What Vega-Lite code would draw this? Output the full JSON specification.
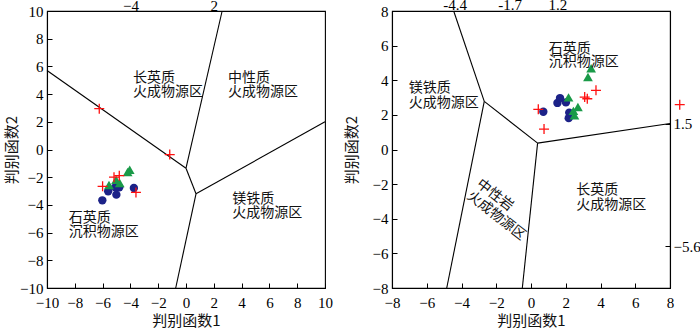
{
  "$schema": "https://vega.github.io/schema/vega-lite/v6.json",
  "padding": {"left": 3, "top": -3, "right": 0, "bottom": 0},
  "spacing": 9,
  "datasets": {
    "leftLines": [
      {"seg": "A", "o": 1, "x": -10, "y": 5.7}, {"seg": "A", "o": 2, "x": 0, "y": -1.35},
      {"seg": "B", "o": 1, "x": 0, "y": -1.35}, {"seg": "B", "o": 2, "x": 2.6, "y": 10},
      {"seg": "C", "o": 1, "x": 0, "y": -1.35}, {"seg": "C", "o": 2, "x": 0.72, "y": -3.2},
      {"seg": "D", "o": 1, "x": 0.72, "y": -3.2}, {"seg": "D", "o": 2, "x": 10, "y": 2.0},
      {"seg": "E", "o": 1, "x": 0.72, "y": -3.2}, {"seg": "E", "o": 2, "x": -0.74, "y": -10}
    ],
    "leftPts": [
      {"g": "circle", "x": -6.02, "y": -3.67}, {"g": "circle", "x": -5.6, "y": -3.02},
      {"g": "circle", "x": -5.01, "y": -3.26}, {"g": "circle", "x": -5.08, "y": -2.72},
      {"g": "circle", "x": -4.8, "y": -2.73}, {"g": "circle", "x": -3.75, "y": -2.78},
      {"g": "tri", "x": -4.2, "y": -1.62}, {"g": "tri", "x": -4.05, "y": -1.46},
      {"g": "tri", "x": -5.03, "y": -2.18}, {"g": "tri", "x": -4.77, "y": -2.42},
      {"g": "tri", "x": -5.54, "y": -2.56},
      {"g": "plus", "x": -6.24, "y": 2.95}, {"g": "plus", "x": -1.17, "y": -0.37},
      {"g": "plus", "x": -6.0, "y": -2.66}, {"g": "plus", "x": -5.18, "y": -2.0},
      {"g": "plus", "x": -4.8, "y": -1.89}, {"g": "plus", "x": -3.6, "y": -3.1}
    ],
    "leftText": [
      {"x": -3.81, "y": 5.16, "t": "长英质"}, {"x": -3.81, "y": 4.15, "t": "火成物源区"},
      {"x": 3.02, "y": 5.16, "t": "中性质"}, {"x": 3.02, "y": 4.15, "t": "火成物源区"},
      {"x": 3.33, "y": -3.57, "t": "镁铁质"}, {"x": 3.33, "y": -4.6, "t": "火成物源区"},
      {"x": -8.44, "y": -4.95, "t": "石英质"}, {"x": -8.44, "y": -5.98, "t": "沉积物源区"}
    ],
    "rightLines": [
      {"seg": "A", "o": 1, "x": -4.45, "y": 8}, {"seg": "A", "o": 2, "x": -2.69, "y": 2.78},
      {"seg": "B", "o": 1, "x": -2.69, "y": 2.78}, {"seg": "B", "o": 2, "x": 0.38, "y": 0.37},
      {"seg": "C", "o": 1, "x": 0.38, "y": 0.37}, {"seg": "C", "o": 2, "x": 8, "y": 1.5},
      {"seg": "D", "o": 1, "x": 0.38, "y": 0.37}, {"seg": "D", "o": 2, "x": -0.5, "y": -8},
      {"seg": "E", "o": 1, "x": -2.69, "y": 2.78}, {"seg": "E", "o": 2, "x": -4.85, "y": -8}
    ],
    "rightPts": [
      {"g": "circle", "x": 0.71, "y": 2.18}, {"g": "circle", "x": 1.52, "y": 2.69},
      {"g": "circle", "x": 1.67, "y": 2.97}, {"g": "circle", "x": 2.01, "y": 2.72},
      {"g": "circle", "x": 2.2, "y": 2.13}, {"g": "circle", "x": 2.17, "y": 1.81},
      {"g": "tri", "x": 3.46, "y": 4.69}, {"g": "tri", "x": 3.28, "y": 4.19},
      {"g": "tri", "x": 2.16, "y": 3.01}, {"g": "tri", "x": 2.7, "y": 2.45},
      {"g": "tri", "x": 2.44, "y": 2.23}, {"g": "tri", "x": 2.5, "y": 1.97},
      {"g": "plus", "x": 0.42, "y": 2.32}, {"g": "plus", "x": 0.75, "y": 1.18},
      {"g": "plus", "x": 3.09, "y": 3.03}, {"g": "plus", "x": 3.24, "y": 2.93},
      {"g": "plus", "x": 3.74, "y": 3.42}, {"g": "plus", "x": 8.56, "y": 2.59}
    ],
    "rightText": [
      {"x": 1.02, "y": 5.82, "t": "石英质"}, {"x": 1.02, "y": 5.05, "t": "沉积物源区"},
      {"x": -7.04, "y": 3.55, "t": "镁铁质"}, {"x": -7.04, "y": 2.69, "t": "火成物源区"},
      {"x": 2.61, "y": -2.36, "t": "长英质"}, {"x": 2.61, "y": -3.19, "t": "火成物源区"}
    ],
    "rightRot": [
      {"x": -2.08, "y": -2.65, "t": "中性岩", "a": 38}, {"x": -2.0, "y": -3.83, "t": "火成物源区", "a": 38}
    ],
    "rightTop": [
      {"x": -4.37, "y": 8, "t": "-4.4"}, {"x": -1.2, "y": 8, "t": "-1.7"}, {"x": 1.55, "y": 8, "t": "1.2"}
    ]
  },
  "hconcat": [
    {
      "width": 278, "height": 277,
      "layer": [
        {
          "data": {"name": "leftLines"},
          "mark": {"type": "line", "color": "black", "strokeWidth": 1.1},
          "encoding": {
            "x": {"field": "x", "type": "quantitative", "scale": {"domain": [-10, 10], "nice": false, "zero": false},
                  "axis": {"values": [-10, -8, -6, -4, -2, 0, 2, 4, 6, 8, 10], "title": "判别函数1", "labelPadding": 12, "titlePadding": 3, "labelOverlap": false}},
            "y": {"field": "y", "type": "quantitative", "scale": {"domain": [-10, 10], "nice": false, "zero": false},
                  "axis": {"values": [-10, -8, -6, -4, -2, 0, 2, 4, 6, 8, 10], "title": "判别函数2", "titlePadding": 0, "labelOverlap": false}},
            "detail": {"field": "seg"},
            "order": {"field": "o"}
          }
        },
        {
          "data": {"name": "leftPts"},
          "transform": [{"filter": "datum.g != 'plus'"}],
          "mark": {"type": "point", "filled": true, "opacity": 1},
          "encoding": {
            "x": {"field": "x", "type": "quantitative",
                  "axis": {"orient": "top", "values": [-4, 2], "ticks": false, "domain": false, "title": null, "labelPadding": 1, "labelBaseline": "alphabetic", "labelOverlap": false}},
            "y": {"field": "y", "type": "quantitative",
                  "axis": {"values": [-10, -8, -6, -4, -2, 0, 2, 4, 6, 8, 10], "title": "判别函数2", "titlePadding": 0, "labelOverlap": false}},
            "shape": {"field": "g", "scale": {"domain": ["circle", "tri"], "range": ["circle", "triangle-up"]}, "legend": null},
            "color": {"field": "g", "scale": {"domain": ["circle", "tri"], "range": ["#1c2288", "#1a9a48"]}, "legend": null},
            "size": {"field": "g", "scale": {"domain": ["circle", "tri"], "range": [70, 95]}, "legend": null}
          }
        },
        {
          "data": {"name": "leftPts"},
          "transform": [{"filter": "datum.g == 'plus'"}],
          "mark": {"type": "point", "shape": "M-1,0L1,0M0,-1L0,1", "filled": false, "color": "#ff1010", "strokeWidth": 1.3, "size": 100, "opacity": 1},
          "encoding": {
            "x": {"field": "x", "type": "quantitative", "axis": null},
            "y": {"field": "y", "type": "quantitative",
                  "axis": {"values": [-10, -8, -6, -4, -2, 0, 2, 4, 6, 8, 10], "title": "判别函数2", "titlePadding": 0, "labelOverlap": false}}
          }
        },
        {
          "data": {"name": "leftText"},
          "mark": {"type": "text", "align": "left", "baseline": "middle", "font": "Noto Sans CJK SC", "fontSize": 14, "color": "#111"},
          "encoding": {
            "x": {"field": "x", "type": "quantitative", "axis": null},
            "y": {"field": "y", "type": "quantitative",
                  "axis": {"values": [-10, -8, -6, -4, -2, 0, 2, 4, 6, 8, 10], "title": "判别函数2", "titlePadding": 0, "labelOverlap": false}},
            "text": {"field": "t"}
          }
        }
      ],
      "resolve": {"axis": {"x": "independent"}}
    },
    {
      "width": 278, "height": 277,
      "layer": [
        {
          "data": {"name": "rightLines"},
          "mark": {"type": "line", "color": "black", "strokeWidth": 1.1},
          "encoding": {
            "x": {"field": "x", "type": "quantitative", "scale": {"domain": [-8, 8], "nice": false, "zero": false},
                  "axis": {"values": [-8, -6, -4, -2, 0, 2, 4, 6, 8], "title": "判别函数1", "labelPadding": 12, "titlePadding": 3, "labelOverlap": false}},
            "y": {"field": "y", "type": "quantitative", "scale": {"domain": [-8, 8], "nice": false, "zero": false},
                  "axis": {"values": [-8, -6, -4, -2, 0, 2, 4, 6, 8], "title": "判别函数2", "titlePadding": 13, "labelOverlap": false}},
            "detail": {"field": "seg"},
            "order": {"field": "o"}
          }
        },
        {
          "data": {"name": "rightPts"},
          "transform": [{"filter": "datum.g != 'plus'"}],
          "mark": {"type": "point", "filled": true, "opacity": 1},
          "encoding": {
            "x": {"field": "x", "type": "quantitative",
                  "axis": {"values": [-8, -6, -4, -2, 0, 2, 4, 6, 8], "title": "判别函数1", "labelPadding": 12, "titlePadding": 3, "labelOverlap": false}},
            "y": {"field": "y", "type": "quantitative",
                  "axis": {"orient": "right", "values": [1.5, -5.6], "format": ".1f", "title": null, "labelPadding": 8, "labelOverlap": false}},
            "shape": {"field": "g", "scale": {"domain": ["circle", "tri"], "range": ["circle", "triangle-up"]}, "legend": null},
            "color": {"field": "g", "scale": {"domain": ["circle", "tri"], "range": ["#1c2288", "#1a9a48"]}, "legend": null},
            "size": {"field": "g", "scale": {"domain": ["circle", "tri"], "range": [70, 95]}, "legend": null}
          }
        },
        {
          "data": {"name": "rightPts"},
          "transform": [{"filter": "datum.g == 'plus'"}],
          "mark": {"type": "point", "shape": "M-1,0L1,0M0,-1L0,1", "filled": false, "color": "#ff1010", "strokeWidth": 1.3, "size": 100, "opacity": 1},
          "encoding": {
            "x": {"field": "x", "type": "quantitative",
                  "axis": {"values": [-8, -6, -4, -2, 0, 2, 4, 6, 8], "title": "判别函数1", "labelPadding": 12, "titlePadding": 3, "labelOverlap": false}},
            "y": {"field": "y", "type": "quantitative", "axis": null}
          }
        },
        {
          "data": {"name": "rightText"},
          "mark": {"type": "text", "align": "left", "baseline": "middle", "font": "Noto Sans CJK SC", "fontSize": 14, "color": "#111"},
          "encoding": {
            "x": {"field": "x", "type": "quantitative",
                  "axis": {"values": [-8, -6, -4, -2, 0, 2, 4, 6, 8], "title": "判别函数1", "labelPadding": 12, "titlePadding": 3, "labelOverlap": false}},
            "y": {"field": "y", "type": "quantitative", "axis": null},
            "text": {"field": "t"}
          }
        },
        {
          "data": {"name": "rightRot"},
          "mark": {"type": "text", "align": "center", "baseline": "middle", "font": "Noto Sans CJK SC", "fontSize": 14, "color": "#111"},
          "encoding": {
            "x": {"field": "x", "type": "quantitative",
                  "axis": {"values": [-8, -6, -4, -2, 0, 2, 4, 6, 8], "title": "判别函数1", "labelPadding": 12, "titlePadding": 3, "labelOverlap": false}},
            "y": {"field": "y", "type": "quantitative", "axis": null},
            "text": {"field": "t"},
            "angle": {"field": "a", "type": "quantitative", "scale": null}
          }
        },
        {
          "data": {"name": "rightTop"},
          "mark": {"type": "text", "align": "center", "baseline": "alphabetic", "dy": -1, "font": "Liberation Serif", "fontSize": 15, "color": "black"},
          "encoding": {
            "x": {"field": "x", "type": "quantitative",
                  "axis": {"values": [-8, -6, -4, -2, 0, 2, 4, 6, 8], "title": "判别函数1", "labelPadding": 12, "titlePadding": 3, "labelOverlap": false}},
            "y": {"field": "y", "type": "quantitative", "axis": null},
            "text": {"field": "t"}
          }
        }
      ],
      "resolve": {"axis": {"y": "independent"}}
    }
  ],
  "config": {
    "view": {"stroke": "black", "strokeWidth": 1.1},
    "axis": {
      "grid": false,
      "domainColor": "black", "domainWidth": 1.1,
      "tickColor": "black", "tickSize": -5, "tickWidth": 1,
      "labelFont": "Liberation Serif", "labelFontSize": 15, "labelColor": "black", "labelPadding": 9,
      "labelFlush": false, "labelOverlap": false,
      "titleFont": "Noto Sans CJK SC", "titleFontSize": 15, "titleFontWeight": "normal", "titleColor": "#111"
    }
  }
}
